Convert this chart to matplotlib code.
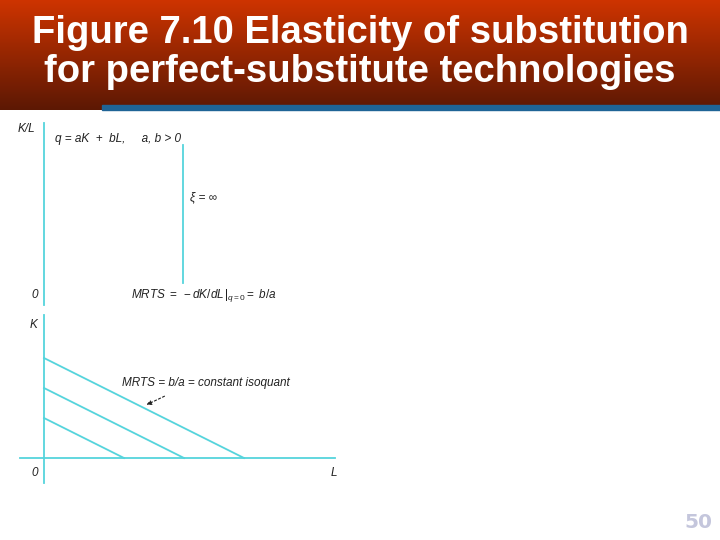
import numpy as np
import matplotlib
matplotlib.use("Agg")
import matplotlib.pyplot as plt
from matplotlib.patches import Rectangle

# ---- data ----
a_coef = 1.0
b_coef = 0.5
q_levels = [1.6, 2.8, 4.0]          # output levels of the three isoquants
kl_range = [0.13, 1.51]             # K/L span of the sigma = inf line
title_lines = ["Figure 7.10 Elasticity of substitution",
               "for perfect-substitute technologies"]
page_number = "50"

W, H = 720, 540
fig = plt.figure(figsize=(7.2, 5.4), dpi=100)
fig.patch.set_facecolor("white")

def fx(x):
    return x / W

def fy(y):
    return 1 - y / H

# ---- title band with vertical gradient ----
band_h = 110
axb = fig.add_axes([0, fy(band_h), 1, band_h / H])
top = np.array([206, 52, 0]) / 255
bot = np.array([92, 24, 4]) / 255
t = np.linspace(0, 1, 256)[:, None]
grad = top[None, :] * (1 - t) + bot[None, :] * t
grad = np.repeat(grad[:, None, :], 2, axis=1)
axb.imshow(grad, aspect="auto", extent=[0, 1, 0, 1])
axb.set_axis_off()
fig.patches.append(Rectangle((fx(102), fy(110)), 1 - fx(102), 5 / H,
                             transform=fig.transFigure, color="#1f6496",
                             zorder=5))
fig.text(0.5, fy(43), title_lines[0], ha="center", va="baseline",
         color="white", fontsize=27.5, fontweight="bold",
         family="Liberation Sans")
fig.text(0.5, fy(82), title_lines[1], ha="center", va="baseline",
         color="white", fontsize=27.5, fontweight="bold",
         family="Liberation Sans")

cyan = "#55d4dc"
tfont = dict(family="Liberation Sans", style="italic", fontsize=8.5,
             color="#222222")
plt.rcParams["mathtext.fontset"] = "custom"
plt.rcParams["mathtext.it"] = "Liberation Sans:italic"
plt.rcParams["mathtext.rm"] = "Liberation Sans"

# ---- top panel: K/L vs MRTS ----
x0, x1, y0, y1 = 44, 340, 123, 305
ax1 = fig.add_axes([fx(x0), fy(y1), (x1 - x0) / W, (y1 - y0) / H])
ax1.set_facecolor("none")
mrts = b_coef / a_coef
ax1.set_xlim(0, mrts * (x1 - x0) / (183 - x0))
ax1.set_ylim(-0.09, 1.73)
ax1.plot([mrts, mrts], kl_range, color=cyan, lw=1.3)
for s in ["top", "right", "bottom"]:
    ax1.spines[s].set_visible(False)
ax1.spines["left"].set_color(cyan)
ax1.spines["left"].set_linewidth(1.3)
ax1.set_xticks([])
ax1.set_yticks([])

fig.text(fx(18), fy(129), "K/L", ha="left", va="center", **tfont)
fig.text(fx(55), fy(139), "q = aK  +  bL,     a, b > 0", ha="left", va="center", **tfont)
fig.text(fx(190), fy(197), "\u03be = \u221e", ha="left", va="center", **tfont)
fig.text(fx(31), fy(295), "0", ha="left", va="center", **tfont)
fig.text(fx(131), fy(295), r"$MRTS\ =\ -dK/dL\,|_{q=0}=\ b/a$",
         ha="left", va="center", fontsize=8.5, color="#222222")

# ---- bottom panel: isoquants ----
px = 25.0  # pixels per data unit
bx0, bx1, by0, by1 = 20, 335, 315, 483
ax2 = fig.add_axes([fx(bx0), fy(by1), (bx1 - bx0) / W, (by1 - by0) / H])
ax2.set_facecolor("none")
ax2.set_xlim(-(44 - bx0) / px, (bx1 - 44) / px)
ax2.set_ylim(-(by1 - 458) / px, (458 - by0) / px)
ax2.set_axis_off()
xl = ax2.get_xlim()
yl = ax2.get_ylim()
ax2.plot([0, 0], yl, color=cyan, lw=1.3, clip_on=False)
ax2.plot(xl, [0, 0], color=cyan, lw=1.3, clip_on=False)
for q in q_levels:
    ax2.plot([0, q / b_coef], [q / a_coef, 0], color=cyan, lw=1.3)
ax2.annotate("", xy=(4.0, 2.08), xytext=(4.92, 2.52),
             arrowprops=dict(arrowstyle="-|>", linestyle=(0, (2, 2)),
                             color="#222222", lw=0.8, mutation_scale=7))
ax2.text(3.12, 3.0, "MRTS = b/a = constant isoquant", ha="left",
         va="center", **tfont)

fig.text(fx(30), fy(325), "K", ha="left", va="center", **tfont)
fig.text(fx(31), fy(473), "0", ha="left", va="center", **tfont)
fig.text(fx(331), fy(473), "L", ha="left", va="center", **tfont)

fig.text(fx(712), fy(528), page_number, ha="right", va="baseline",
         color="#c4c6dc", fontsize=14.5, fontweight="bold",
         family="DejaVu Sans")

fig.savefig("out.png", dpi=100)
